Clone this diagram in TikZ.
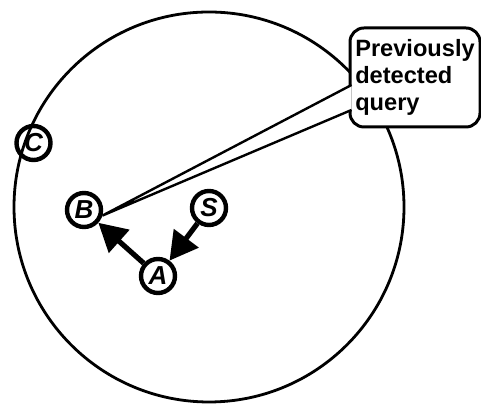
\documentclass[tikz,border=0pt]{standalone}
\usepackage{fontspec}
\setmainfont{Liberation Sans}
\usetikzlibrary{arrows.meta}

\begin{document}
\begin{tikzpicture}[x=0.5pt,y=0.5pt,>={Triangle[length=14pt,width=15pt]},
  sommet/.style={draw,circle,line width=2.2pt,minimum size=17pt,inner sep=0pt,
    font=\bfseries\itshape\fontsize{13}{13}\selectfont},
  bulle/.style={draw,fill=white,rounded corners=7pt,line width=1.5pt,
    minimum width=65pt,minimum height=49.5pt,align=left,inner xsep=2.5pt,
    font=\bfseries\fontsize{11.8}{13.5}\selectfont}]
  \useasboundingbox (0,0) rectangle (481,405);

  % grand cercle
  \draw[line width=1.4pt] (209,198) circle[radius=97.5pt];

  % sommets
  \node[sommet] (C) at (33.5,262) {C};
  \node[sommet] (B) at (84,195) {B};
  \node[sommet] (S) at (209,197) {S};
  \node[sommet] (A) at (158,129) {A};

  % parcours
  \draw[->,line width=2.6pt] (S) -- (A);
  \draw[->,line width=2.6pt] (A) -- (B);

  % bulle
  \node[bulle] (Q) at (415,327.5) {Previously\\detected\\query};
  \coordinate (q1) at ([xshift=1.5pt,yshift=-3.75pt]Q.west);
  \coordinate (q2) at ([xshift=1.5pt,yshift=-16.25pt]Q.west);
  \fill[white] (B.-17) -- (q1) -- (q2) -- cycle;
  \draw[line width=1.2pt] (q1) -- (B.-17) -- (q2);
\end{tikzpicture}
\end{document}
